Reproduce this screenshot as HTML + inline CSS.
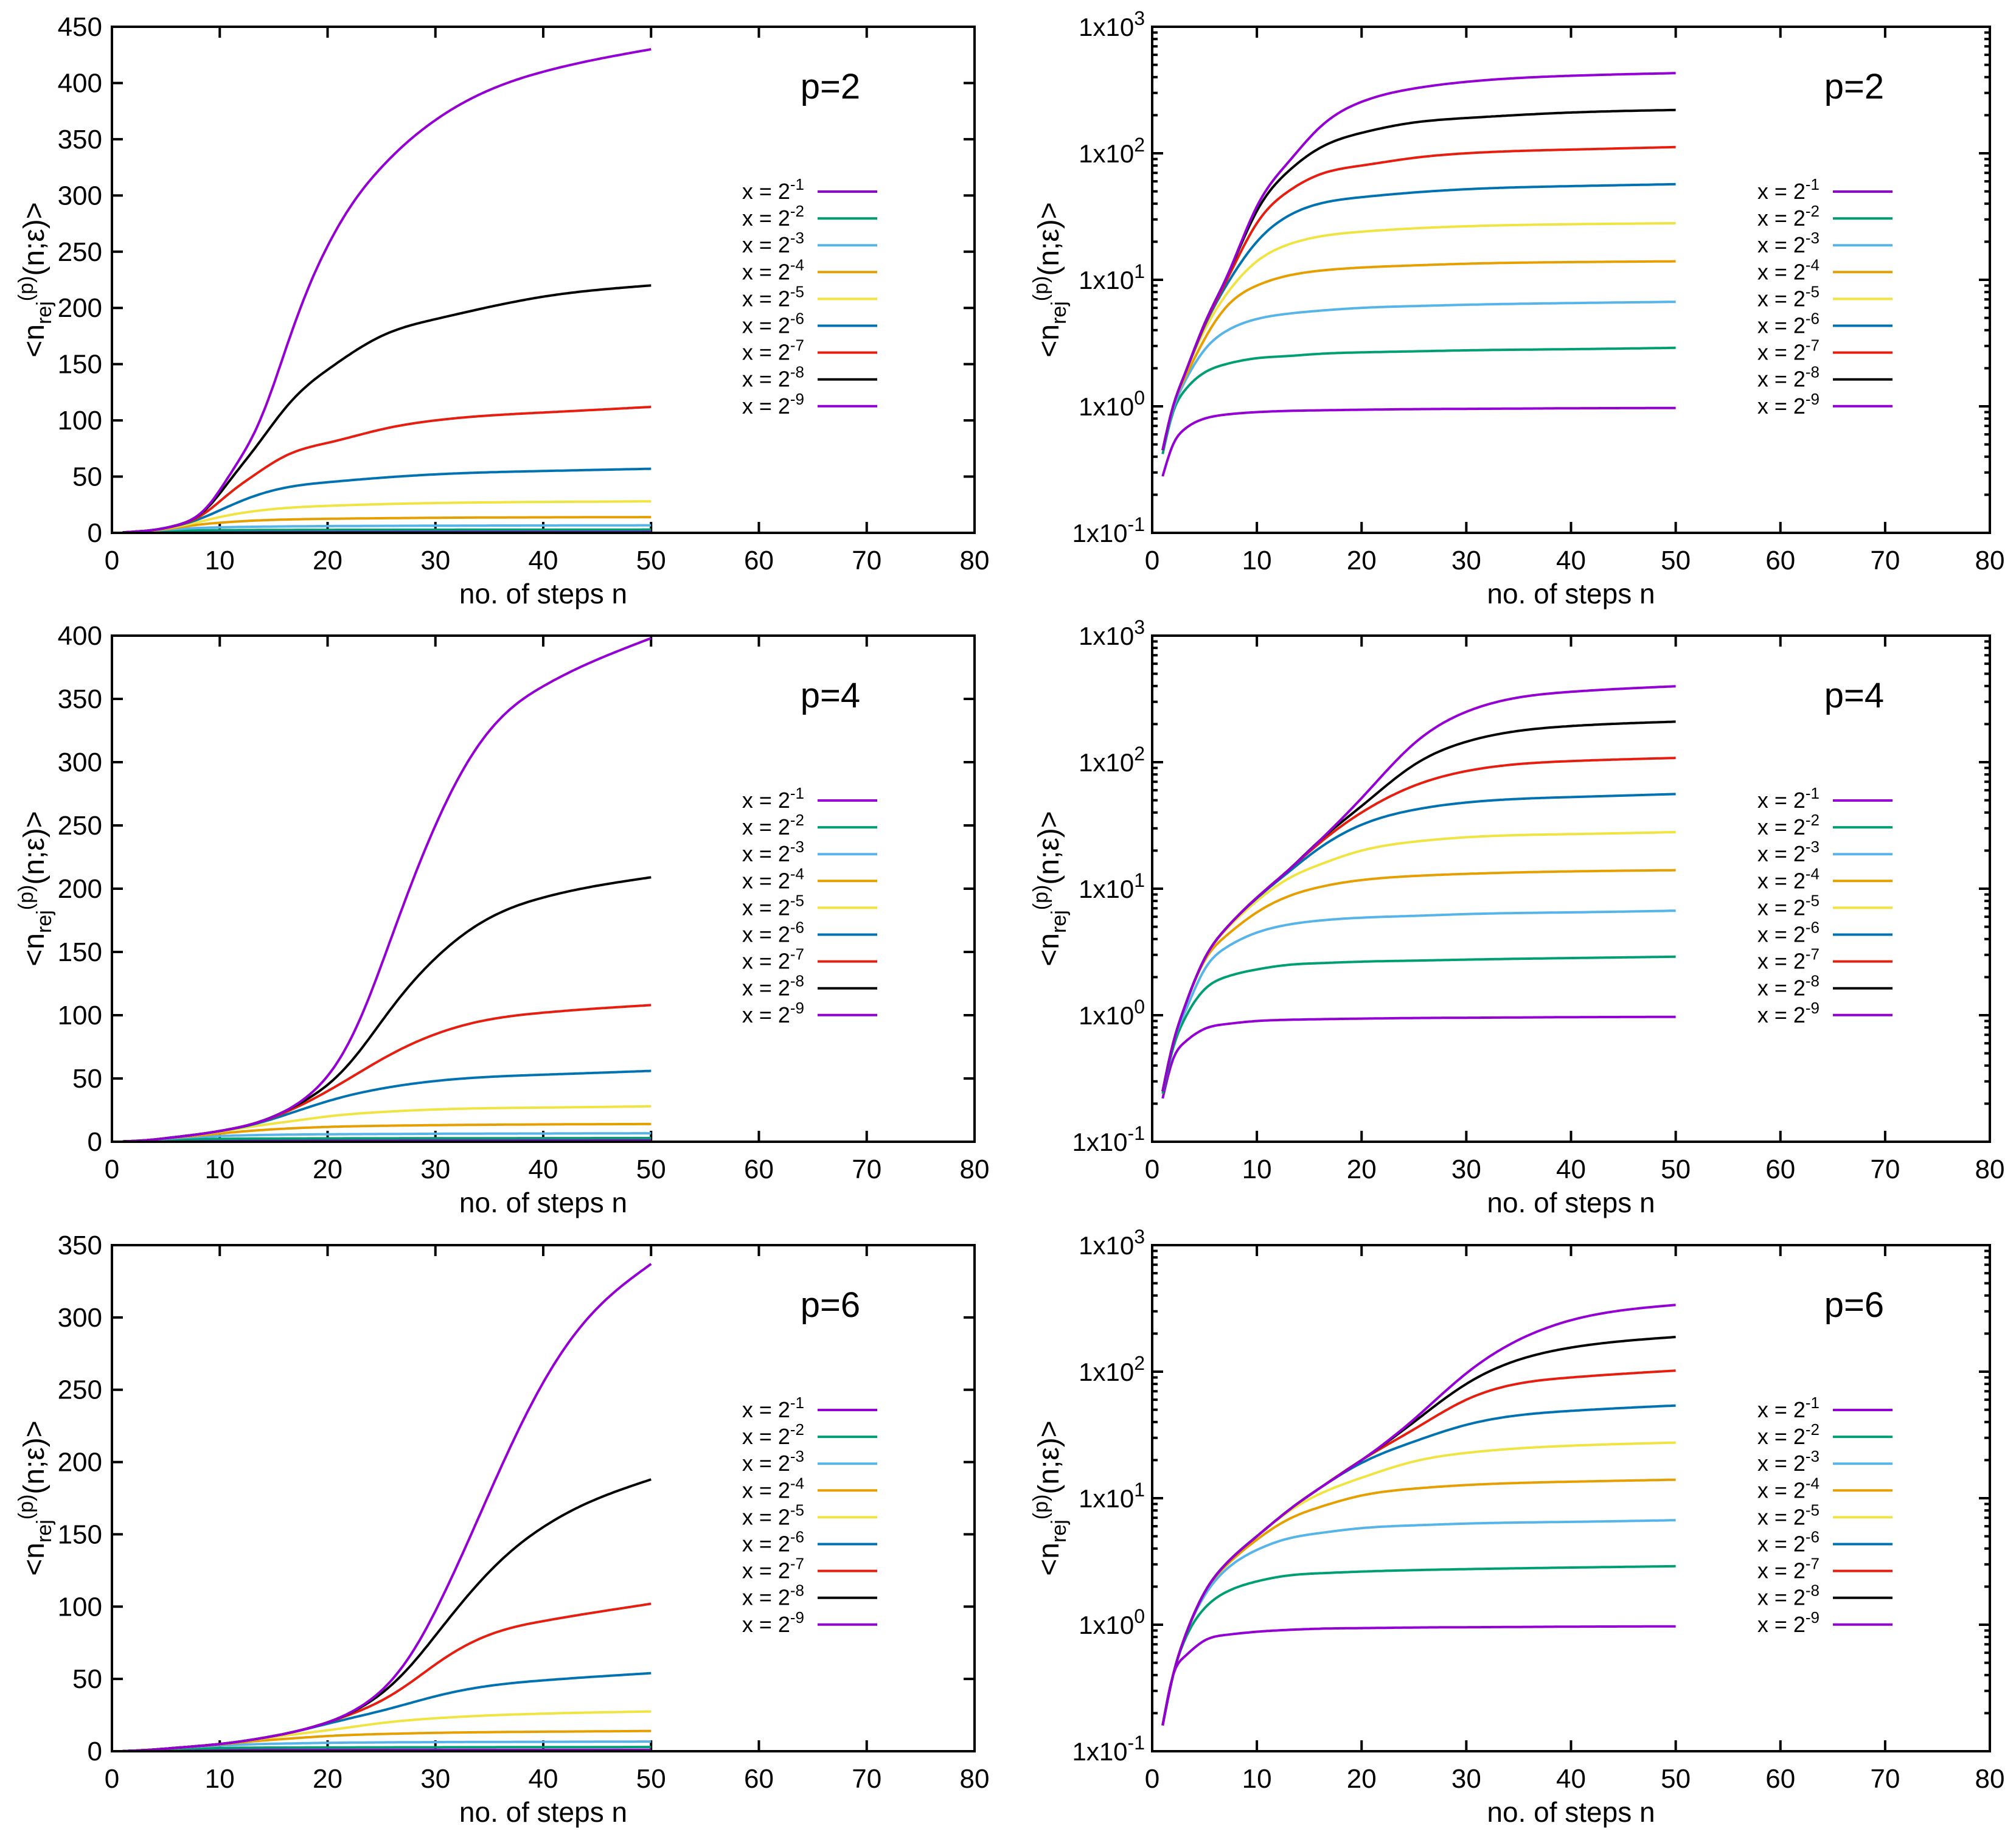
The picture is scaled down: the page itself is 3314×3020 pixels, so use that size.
<!DOCTYPE html>
<html><head><meta charset="utf-8"><style>
html,body{margin:0;padding:0;background:#fff}
svg{display:block;font-family:"Liberation Sans",sans-serif}
</style></head><body>
<svg id="chart" width="3314" height="3020" viewBox="0 0 3314 3020" xmlns="http://www.w3.org/2000/svg"></svg>
<script>
// Sample step numbers
const steps = [1,2,3,5,7,10,13,16,20,25,30,40,50];
// Series labels (x = 2^-k)
const exponents = ["-1","-2","-3","-4","-5","-6","-7","-8","-9"];
const colors = ["#9400d3","#009e73","#56b4e9","#e69f00","#f0e442","#0072b2","#e51e10","#000000","#9400d3"];
// p = 2 series
const p2_s1 = [.28,.5,.65,.8,.86,.9,.92,.93,.94,.95,.955,.965,.97];
const p2_s2 = [.42,.9,1.3,1.85,2.15,2.4,2.5,2.6,2.67,2.72,2.77,2.83,2.9];
const p2_s3 = [.45,.95,1.5,2.8,3.9,4.9,5.4,5.7,6.0,6.2,6.35,6.55,6.7];
const p2_s4 = [.45,1,1.6,3.4,6,9,10.8,11.8,12.5,13,13.4,13.8,14];
const p2_s5 = [.45,1,1.7,4,7.5,14,19,22,24,25.5,26.5,27.5,28];
const p2_s6 = [.45,1,1.7,4.3,8.8,20,32,40,45,49,52,55,57];
const p2_s7 = [.45,1,1.7,4.4,9.5,28,50,68,80,92,100,107,112];
const p2_s8 = [.45,1,1.7,4.5,10,35,72,110,145,175,190,210,220];
const p2_s9 = [.45,1,1.7,4.5,10,38,85,160,255,325,367,410,430];
// p = 4 series
const p4_s1 = [.22,.45,.6,.78,.85,.9,.92,.93,.94,.95,.955,.965,.97];
const p4_s2 = [.24,.55,.9,1.6,2.0,2.3,2.5,2.58,2.65,2.7,2.75,2.83,2.9];
const p4_s3 = [.25,.6,1.0,2.3,3.4,4.5,5.2,5.6,5.9,6.1,6.3,6.5,6.7];
const p4_s4 = [.25,.6,1.1,2.7,4.2,6.5,8.7,10.3,11.7,12.6,13.1,13.7,14];
const p4_s5 = [.25,.6,1.1,2.8,4.7,8.0,12,15.5,20,23.5,25.5,27,28];
const p4_s6 = [.25,.6,1.1,2.8,4.8,8.4,13.5,21,32,42,48,53,56];
const p4_s7 = [.25,.6,1.1,2.8,4.8,8.5,14,23,40,65,85,102,108];
const p4_s8 = [.25,.6,1.1,2.8,4.8,8.5,14,24,45,95,145,193,209];
const p4_s9 = [.25,.6,1.1,2.8,4.8,8.5,14,24,52,140,250,360,398];
// p = 6 series
const p6_s1 = [.16,.4,.55,.75,.83,.88,.91,.93,.94,.95,.955,.965,.97];
const p6_s2 = [.16,.4,.72,1.35,1.8,2.2,2.45,2.55,2.63,2.7,2.75,2.83,2.9];
const p6_s3 = [.16,.4,.75,1.7,2.7,3.9,4.8,5.3,5.8,6.1,6.3,6.5,6.7];
const p6_s4 = [.16,.4,.75,1.8,2.9,4.7,6.8,8.5,10.5,11.9,12.7,13.5,14];
const p6_s5 = [.16,.4,.75,1.8,3.0,5.0,7.8,10.8,14.5,19.5,22.8,26,27.5];
const p6_s6 = [.16,.4,.75,1.8,3.0,5.0,8,12,19,28,38,49,54];
const p6_s7 = [.16,.4,.75,1.8,3.0,5.0,8,12,20,35,60,90,102];
const p6_s8 = [.16,.4,.75,1.8,3.0,5.0,8,12,20,40,80,155,188];
const p6_s9 = [.16,.4,.75,1.8,3.0,5.0,8,12,20,42,97,255,337];
const pValues = ["2","4","6"];
const linearMax = [450,400,350];
const linearStep = 50;
const xTicks = [0,10,20,30,40,50,60,70,80];
const logExps = ["-1","0","1","2","3"];

const seriesByP = [
  [p2_s1,p2_s2,p2_s3,p2_s4,p2_s5,p2_s6,p2_s7,p2_s8,p2_s9],
  [p4_s1,p4_s2,p4_s3,p4_s4,p4_s5,p4_s6,p4_s7,p4_s8,p4_s9],
  [p6_s1,p6_s2,p6_s3,p6_s4,p6_s5,p6_s6,p6_s7,p6_s8,p6_s9]
];

const NS = "http://www.w3.org/2000/svg";
const svg = document.getElementById("chart");
function mk(tag, attrs, parent){
  const e = document.createElementNS(NS, tag);
  for (const k in attrs) e.setAttribute(k, attrs[k]);
  (parent||svg).appendChild(e);
  return e;
}

// natural cubic spline in log space (smooth C2)
function makeSpline(xs, ys){
  const n = xs.length, y = ys.map(v=>Math.log(v));
  const h=[], al=[0], l=[1], mu=[0], z=[0], c=new Array(n).fill(0), b=[], d=[];
  for(let i=0;i<n-1;i++) h.push(xs[i+1]-xs[i]);
  for(let i=1;i<n-1;i++) al.push(3/h[i]*(y[i+1]-y[i])-3/h[i-1]*(y[i]-y[i-1]));
  for(let i=1;i<n-1;i++){
    l[i]=2*(xs[i+1]-xs[i-1])-h[i-1]*mu[i-1];
    mu[i]=h[i]/l[i]; z[i]=(al[i]-h[i-1]*z[i-1])/l[i];
  }
  for(let j=n-2;j>=0;j--){
    c[j]=(j>0?z[j]-mu[j]*c[j+1]:0);
    b[j]=(y[j+1]-y[j])/h[j]-h[j]*(c[j+1]+2*c[j])/3;
    d[j]=(c[j+1]-c[j])/(3*h[j]);
  }
  return function(t){
    let k=0; while(k<n-2 && t>xs[k+1]) k++;
    const dx=t-xs[k];
    return Math.exp(y[k]+b[k]*dx+c[k]*dx*dx+d[k]*dx*dx*dx);
  };
}

const rowsY = [44,1045,2047];
const H = 832;
const cols = [{x0:184,x1:1602,log:false},{x0:1894,x1:3271,log:true}];

function text(str, attrs, parent){
  const t = mk("text", attrs, parent);
  t.textContent = str;
  return t;
}

for (let r=0;r<3;r++){
  for (let c=0;c<2;c++){
    const {x0,x1,log} = cols[c];
    const y0 = rowsY[r], y1 = y0+H;
    const g = mk("g",{});
    
    
    const xs = v => x0 + (v/80)*(x1-x0);
    const ymax = linearMax[r];
    const ys = log ? (v => y1 - (Math.log10(v)+1)/4*H) : (v => y1 - v/ymax*H);

    const tg = mk("g",{stroke:"#000","stroke-width":4},g);
    
    
    xTicks.forEach(v=>{
      const x = xs(v);
      mk("line",{x1:x,y1:y1,x2:x,y2:y1-18},tg);
      mk("line",{x1:x,y1:y0,x2:x,y2:y0+18},tg);
      const lb = text(String(v),{x:x,y:y1+60,"font-size":44,"text-anchor":"middle",fill:"#000"},g);
      
      
    });
    if (!log){
      for(let v=0; v<=ymax; v+=linearStep){
        const y = ys(v);
        mk("line",{x1:x0,y1:y,x2:x0+18,y2:y},tg);
        mk("line",{x1:x1,y1:y,x2:x1-18,y2:y},tg);
        const lb = text(String(v),{x:x0-16,y:y+15,"font-size":44,"text-anchor":"end",fill:"#000"},g);
        
        
      }
    } else {
      logExps.forEach((e,i)=>{
        const base = Math.pow(10, i-1);
        const y = ys(base);
        mk("line",{x1:x0,y1:y,x2:x0+18,y2:y},tg);
        mk("line",{x1:x1,y1:y,x2:x1-18,y2:y},tg);
        if (i<4){
          for(let m=2;m<=9;m++){
            const ym = ys(base*m);
            mk("line",{x1:x0,y1:ym,x2:x0+9,y2:ym},tg);
            mk("line",{x1:x1,y1:ym,x2:x1-9,y2:ym},tg);
          }
        }
        const lb = mk("text",{x:x0-12,y:y+15,"font-size":42,"text-anchor":"end",fill:"#000"},g);
        
        
        const t1 = mk("tspan",{},lb); t1.textContent="1x10";
        const t2 = mk("tspan",{dy:-18,"font-size":32},lb); t2.textContent=e;
      });
    }

    const data = seriesByP[r];
    data.forEach((arr,si)=>{
      const f = makeSpline(steps, arr);
      let d="";
      for(let t=1;t<=50.0001;t+=0.25){
        const v = f(t);
        d += (d?"L":"M")+xs(t).toFixed(1)+","+ys(v).toFixed(1);
      }
      const p = mk("path",{d:d,fill:"none",stroke:colors[si],"stroke-width":4,"stroke-linejoin":"round"},g);
      
      
    });

    const fr = mk("rect",{x:x0,y:y0,width:x1-x0,height:H,fill:"none",stroke:"#000","stroke-width":4},g);
    
    

    const ti = text("p="+pValues[r],{x:x1-(log?223:237),y:y0+118,"font-size":58,"text-anchor":"middle",fill:"#000"},g);
    
    

    const lg = mk("g",{},g);
    
    
    exponents.forEach((e,i)=>{
      const y = y0 + 271 + i*44.1;
      const en = mk("g",{},lg);
      
      
      const tx = mk("text",{x:x1-280,y:y+12,"font-size":36,"text-anchor":"end",fill:"#000"},en);
      const a = mk("tspan",{},tx); a.textContent="x = 2";
      const b = mk("tspan",{dy:-15,"font-size":26},tx); b.textContent=e;
      mk("line",{x1:x1-258,y1:y,x2:x1-160,y2:y,stroke:colors[i],"stroke-width":4},en);
    });

    const xt = text("no. of steps n",{x:(x0+x1)/2,y:y1+116,"font-size":46,"text-anchor":"middle",fill:"#000"},g);
    
    
    const cx = log ? 1740 : 72, cy = y0+H/2;
    const yt = mk("text",{x:cx,y:cy,"font-size":48,"text-anchor":"middle",fill:"#000",transform:"rotate(-90 "+cx+" "+cy+")"},g);
    
    
    const a1 = mk("tspan",{},yt); a1.textContent="<n";
    const a2 = mk("tspan",{dy:12,"font-size":34},yt); a2.textContent="rej";
    const a3 = mk("tspan",{dy:-30,"font-size":34},yt); a3.textContent="(p)";
    const a4 = mk("tspan",{dy:18},yt); a4.textContent="(n;ε)>";
  }
}
</script>
</body></html>
